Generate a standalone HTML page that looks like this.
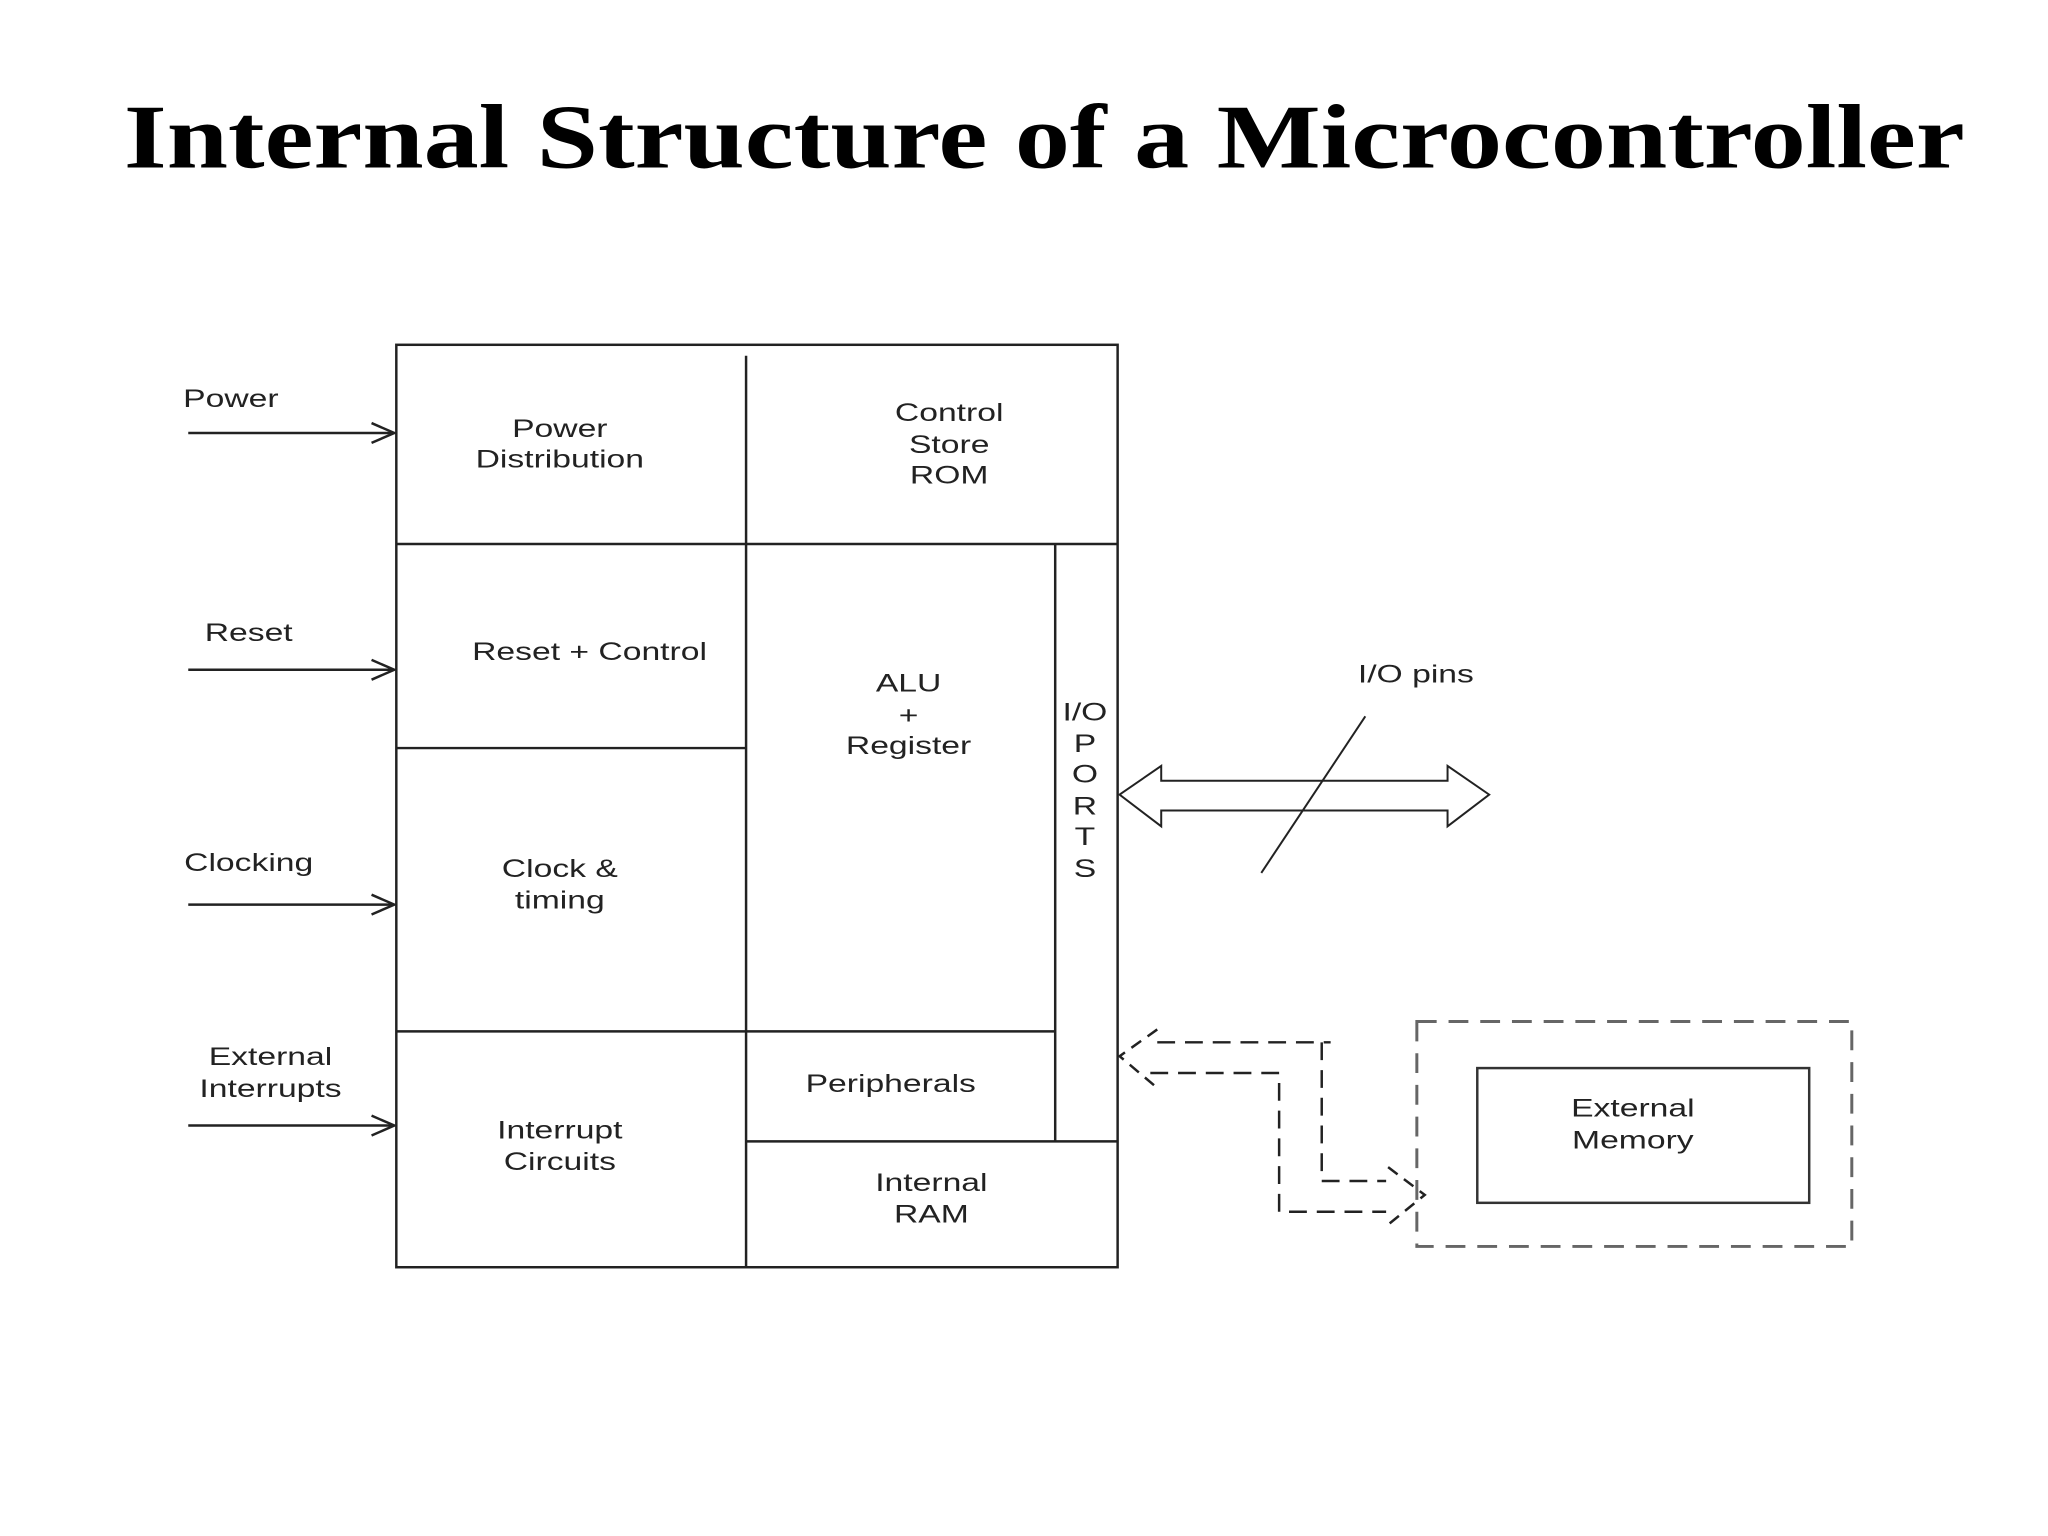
<!DOCTYPE html>
<html><head><meta charset="utf-8"><style>
html,body{margin:0;padding:0;background:#fff;}
svg{display:block}
text{font-family:"Liberation Sans",Arial,sans-serif;fill:#222;font-size:25px}
</style></head><body>
<svg width="2048" height="1536" viewBox="0 0 2048 1536" xmlns="http://www.w3.org/2000/svg">
<g transform="scale(0.9908)">
<text x="125" y="169" textLength="1858" lengthAdjust="spacingAndGlyphs" style="font-family:'Liberation Serif',serif;font-weight:bold;font-size:92px;fill:#000">Internal Structure of a Microcontroller</text>
<g stroke="#222" stroke-width="2.5" fill="none">
<rect x="400" y="348" width="728" height="931"/>
<line x1="753" y1="359" x2="753" y2="1279"/>
<line x1="400" y1="549" x2="1128" y2="549"/>
<line x1="400" y1="755" x2="753" y2="755"/>
<line x1="400" y1="1041" x2="1065" y2="1041"/>
<line x1="1065" y1="549" x2="1065" y2="1152"/>
<line x1="753" y1="1152" x2="1128" y2="1152"/>
<line x1="190" y1="437" x2="398" y2="437"/><polyline points="375,427 398,437 375,447"/>
<line x1="190" y1="676" x2="398" y2="676"/><polyline points="375,666 398,676 375,686"/>
<line x1="190" y1="913" x2="398" y2="913"/><polyline points="375,903 398,913 375,923"/>
<line x1="190" y1="1136" x2="398" y2="1136"/><polyline points="375,1126 398,1136 375,1146"/>
<polygon points="1130,802 1172,773 1172,788 1461,788 1461,773 1503,802 1461,834 1461,818 1172,818 1172,834" stroke-width="2"/>
<line x1="1378" y1="723" x2="1273" y2="881" stroke-width="2"/>
</g>
<g stroke="#222" stroke-width="2.5" fill="none" stroke-dasharray="18 10">
<polyline points="1168,1052 1343,1052"/>
<polyline points="1334,1052 1334,1192 1399,1192"/>
<polyline points="1161,1083 1291,1083 1291,1223 1399,1223"/>
<polyline points="1168,1039 1130,1066 1168,1098" stroke-dasharray="12 8"/>
<polyline points="1401,1178 1438,1206 1401,1236" stroke-dasharray="12 8"/>
</g>
<rect x="1430" y="1031" width="439" height="227" fill="none" stroke="#666" stroke-width="3" stroke-dasharray="20 12"/>
<rect x="1491" y="1078" width="335" height="136" fill="none" stroke="#333" stroke-width="2.5"/>
<g text-anchor="middle">
<text transform="translate(233,411) scale(1.36,1)">Power</text>
<text transform="translate(251,647) scale(1.36,1)">Reset</text>
<text transform="translate(251,879) scale(1.36,1)">Clocking</text>
<text transform="translate(273,1075) scale(1.36,1)">External</text>
<text transform="translate(273,1107) scale(1.36,1)">Interrupts</text>
<text transform="translate(565,441) scale(1.36,1)">Power</text>
<text transform="translate(565,472) scale(1.36,1)">Distribution</text>
<text transform="translate(958,425) scale(1.36,1)">Control</text>
<text transform="translate(958,457) scale(1.36,1)">Store</text>
<text transform="translate(958,488) scale(1.36,1)">ROM</text>
<text transform="translate(595,666) scale(1.36,1)">Reset + Control</text>
<text transform="translate(917,698) scale(1.36,1)">ALU</text>
<text transform="translate(917,730) scale(1.36,1)">+</text>
<text transform="translate(917,761) scale(1.36,1)">Register</text>
<text transform="translate(1095,727) scale(1.36,1)">I/O</text>
<text transform="translate(1095,759) scale(1.36,1)">P</text>
<text transform="translate(1095,790) scale(1.36,1)">O</text>
<text transform="translate(1095,822) scale(1.36,1)">R</text>
<text transform="translate(1095,853) scale(1.36,1)">T</text>
<text transform="translate(1095,885) scale(1.36,1)">S</text>
<text transform="translate(565,885) scale(1.36,1)">Clock &amp;</text>
<text transform="translate(565,917) scale(1.36,1)">timing</text>
<text transform="translate(565,1149) scale(1.36,1)">Interrupt</text>
<text transform="translate(565,1181) scale(1.36,1)">Circuits</text>
<text transform="translate(899,1102) scale(1.36,1)">Peripherals</text>
<text transform="translate(940,1202) scale(1.36,1)">Internal</text>
<text transform="translate(940,1234) scale(1.36,1)">RAM</text>
<text transform="translate(1648,1127) scale(1.36,1)">External</text>
<text transform="translate(1648,1159) scale(1.36,1)">Memory</text>
<text transform="translate(1429,689) scale(1.36,1)">I/O pins</text>
</g>
</g>
</svg>
</body></html>
